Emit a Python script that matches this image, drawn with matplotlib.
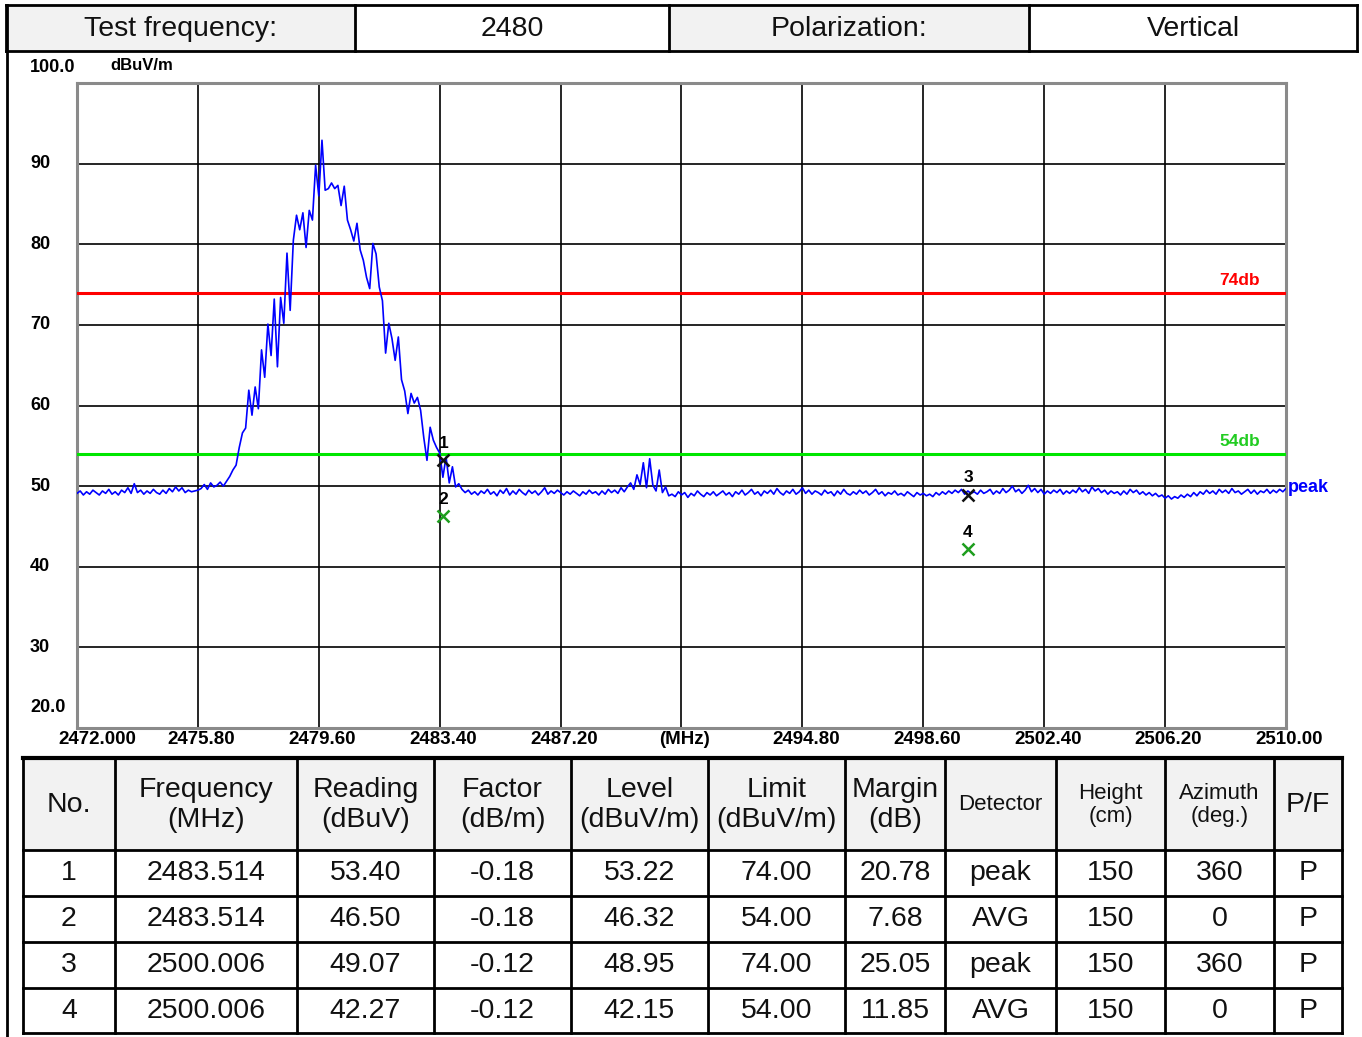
import numpy as np
import matplotlib
matplotlib.use('Agg')
import matplotlib.pyplot as plt
from matplotlib.transforms import blended_transform_factory
from matplotlib.patches import Rectangle

# ---------------- data ----------------
test_frequency = '2480'
polarization = 'Vertical'

sweep_start = 2472.0
sweep_step = 0.1
levels = [
    # 2472.0 - 2475.7
    49.1, 49.4, 48.9, 49.3, 49.0, 49.5, 49.2, 48.9, 49.4, 49.1,
    49.6, 49.0, 49.3, 48.9, 49.5, 49.2, 49.8, 49.1, 50.3, 49.2,
    49.5, 49.0, 49.4, 49.1, 49.6, 49.2, 49.0, 49.5, 49.1, 49.7,
    49.3, 49.9, 49.4, 49.8, 49.2, 49.5, 49.3, 49.4,
    # 2475.8 - 2483.9
    49.5, 49.7, 50.2, 49.6, 50.4, 49.9, 50.1, 50.5, 50.0, 50.6,
    51.2, 52.0, 52.6, 54.8, 56.6, 57.2, 61.9, 58.8, 62.3, 59.6,
    66.9, 63.5, 70.1, 66.2, 73.2, 64.8, 73.4, 70.2, 78.9, 71.8,
    80.5, 83.6, 81.8, 83.9, 79.6, 84.2, 83.0, 89.8, 86.0, 92.9,
    86.7, 86.9, 87.6, 86.9, 87.3, 84.8, 87.2, 83.0, 81.8, 80.4,
    82.6, 79.3, 78.0, 75.9, 74.5, 80.1, 78.8, 74.7, 73.0, 66.5,
    70.2, 68.3, 65.6, 68.5, 63.2, 61.8, 59.0, 61.5, 60.3, 61.0,
    59.4, 56.0, 53.2, 57.3, 55.7, 54.8, 54.1, 51.1, 53.6, 50.4,
    52.4, 49.9,
    # 2484.0 - 2489.2
    50.3, 49.6, 49.2, 49.5, 49.0, 49.3, 48.9, 49.4, 49.1, 49.6,
    49.0, 49.3, 48.8, 49.5, 49.1, 49.7, 48.9, 49.4, 49.0, 49.6,
    49.2, 48.9, 49.5, 49.1, 49.4, 48.9, 49.3, 49.8, 49.0, 49.4,
    49.1, 49.5, 49.2, 48.9, 49.3, 49.0, 49.4, 49.1, 48.8, 49.3,
    49.0, 49.5, 49.1, 49.3, 48.9, 49.4, 49.0, 49.6, 49.2, 49.5,
    49.1, 49.8, 49.3,
    # 2489.3 - 2490.6
    49.9, 50.4, 49.6, 51.4, 50.2, 52.9, 49.8, 53.4, 50.1, 49.4,
    52.0, 49.2, 49.9, 48.8,
    # 2490.7 - 2510.0
    49.0, 48.7, 49.3, 48.9, 49.2, 48.6, 49.1, 48.8, 49.4, 49.0,
    48.7, 49.2, 48.9, 49.3, 48.8, 49.1, 49.4, 48.9, 49.2, 48.7,
    49.3, 49.0, 49.5, 48.9, 49.2, 49.6, 49.0, 49.3, 48.8, 49.4,
    49.1, 49.5, 49.0, 49.7, 49.2, 48.9, 49.4, 49.1, 49.6, 49.0,
    49.3, 49.8, 49.1, 49.5, 49.0, 49.4, 49.2, 48.9, 49.5, 49.1,
    49.3, 48.8, 49.4, 49.0, 49.6, 49.1, 48.9, 49.3, 49.0, 49.5,
    49.1, 49.4, 48.9, 49.2, 49.6, 49.0, 49.3, 48.8, 49.2, 49.0,
    49.4, 48.9, 49.1, 48.8, 49.3, 49.0, 48.7, 49.2, 48.9, 49.1,
    48.8, 49.0, 48.7, 49.2, 48.9, 49.3, 49.0, 49.4, 49.1, 49.5,
    49.2, 49.6, 49.0, 49.4, 49.1, 49.3, 49.0, 49.5, 49.1, 49.3,
    49.6, 49.0, 49.4, 49.1, 49.7, 49.2, 49.5, 50.0, 49.3, 49.6,
    49.1, 49.5, 50.1, 49.3, 49.7, 49.2, 49.6, 49.0, 49.4, 49.1,
    49.5, 49.2, 49.6, 49.0, 49.4, 49.1, 49.5, 49.2, 49.8, 49.3,
    49.6, 49.1, 49.9, 49.4, 49.7, 49.2, 49.5, 49.0, 49.4, 49.1,
    49.3, 48.9, 49.4, 49.0, 49.6, 49.2, 49.5, 49.0, 49.3, 48.9,
    49.2, 48.8, 49.1, 48.7, 48.9, 48.5, 48.8, 48.4, 48.7, 48.5,
    48.9, 48.6, 49.0, 48.7, 49.2, 48.8, 49.3, 49.0, 49.5, 49.1,
    49.4, 49.0, 49.6, 49.2, 49.5, 49.1, 49.7, 49.2, 49.4, 49.0,
    49.3, 49.6, 49.1, 49.5, 49.0, 49.4, 49.2, 49.6, 49.1, 49.5,
    49.2, 49.6, 49.3, 49.7,
]

limit_peak = 74.0
limit_avg = 54.0
limit_peak_label = '74db'
limit_avg_label = '54db'
trace_label = 'peak'

x_ticks = [2472.0, 2475.8, 2479.6, 2483.4, 2487.2, 2491.0, 2494.8, 2498.6, 2502.4, 2506.2, 2510.0]
x_tick_labels = ['2472.000', '2475.80', '2479.60', '2483.40', '2487.20', '(MHz)',
                 '2494.80', '2498.60', '2502.40', '2506.20', '2510.00']
y_ticks = [20, 30, 40, 50, 60, 70, 80, 90, 100]
y_tick_labels = ['20.0', '30', '40', '50', '60', '70', '80', '90', '100.0']
y_unit = 'dBuV/m'

# measurement table
col_headers = ['No.', 'Frequency\n(MHz)', 'Reading\n(dBuV)', 'Factor\n(dB/m)', 'Level\n(dBuV/m)',
               'Limit\n(dBuV/m)', 'Margin\n(dB)', 'Detector', 'Height\n(cm)', 'Azimuth\n(deg.)', 'P/F']
meas_no = ['1', '2', '3', '4']
meas_freq = ['2483.514', '2483.514', '2500.006', '2500.006']
meas_reading = [53.40, 46.50, 49.07, 42.27]
meas_factor = [-0.18, -0.18, -0.12, -0.12]
meas_level = [53.22, 46.32, 48.95, 42.15]
meas_limit = [74.00, 54.00, 74.00, 54.00]
meas_margin = [20.78, 7.68, 25.05, 11.85]
meas_detector = ['peak', 'AVG', 'peak', 'AVG']
meas_height = [150, 150, 150, 150]
meas_azimuth = [360, 0, 360, 0]
meas_pf = ['P', 'P', 'P', 'P']

# ---------------- figure ----------------
W, H = 1362, 1037
fig = plt.figure(figsize=(W / 100, H / 100), dpi=100)
fig.patch.set_facecolor('white')

pg = fig.add_axes([0, 0, 1, 1])
pg.set_xlim(0, W)
pg.set_ylim(H, 0)
pg.axis('off')
pg.set_zorder(1)

TF = 'Liberation Sans'
BF = 'Liberation Sans'

# ---- header strip ----
hx = [6, 355, 669, 1029, 1357]
hy0, hy1 = 5, 51
header_texts = ['Test frequency:', test_frequency, 'Polarization:', polarization]
for i, t in enumerate(header_texts):
    fc = '#f2f2f2' if i % 2 == 0 else 'white'
    pg.add_patch(Rectangle((hx[i], hy0), hx[i + 1] - hx[i], hy1 - hy0, facecolor=fc,
                           edgecolor='none', zorder=1))
    pg.text((hx[i] + hx[i + 1]) / 2, (hy0 + hy1) / 2 + 1, t, ha='center', va='center',
            fontsize=20.5, family=TF, color='#111111', zorder=3)
for x in hx:
    pg.plot([x, x], [hy0, hy1], color='black', lw=2, zorder=2, solid_capstyle='projecting')
pg.plot([hx[0], hx[-1]], [hy0, hy0], color='black', lw=2, zorder=2)
pg.plot([hx[0], hx[-1]], [hy1, hy1], color='black', lw=2, zorder=2)
# page left border
pg.plot([7, 7], [hy0, H], color='black', lw=2, zorder=2)

# ---- chart ----
L, T, R, B = 77, 83, 1286, 728
ax = fig.add_axes([L / W, 1 - B / H, (R - L) / W, (B - T) / H])
ax.set_zorder(2)
freq = sweep_start + sweep_step * np.arange(len(levels))
ax.set_xlim(x_ticks[0], x_ticks[-1])
ax.set_ylim(y_ticks[0], y_ticks[-1])
ax.set_xticks(x_ticks)
ax.set_yticks(y_ticks)
ax.set_xticklabels([])
ax.set_yticklabels([])
ax.tick_params(length=0)
ax.grid(True, color='black', lw=1.2, zorder=1)
for sp in ax.spines.values():
    sp.set_color('#8a8a8a')
    sp.set_linewidth(2.2)

ax.plot(freq, levels, color='#0000ff', lw=1.2, zorder=4)
ax.axhline(limit_peak, color='#ff0000', lw=2.2, zorder=3)
ax.axhline(limit_avg, color='#00e600', lw=2.2, zorder=3)

hb = blended_transform_factory(ax.transAxes, ax.transData)
ax.annotate(limit_peak_label, xy=(0.962, limit_peak), xycoords=hb, xytext=(0, 3.5),
            textcoords='offset points', ha='center', va='bottom', color='#ff0000',
            fontsize=12.5, fontweight='bold', family=BF)
ax.annotate(limit_avg_label, xy=(0.962, limit_avg), xycoords=hb, xytext=(0, 3.5),
            textcoords='offset points', ha='center', va='bottom', color='#22cc22',
            fontsize=12.5, fontweight='bold', family=BF)
ax.annotate(trace_label, xy=(1, levels[-1]), xycoords=hb, xytext=(1.5, 1),
            textcoords='offset points', ha='left', va='center', color='#0000ff',
            fontsize=13, fontweight='bold', family=BF, annotation_clip=False)

# markers
for no, f, lv, det in zip(meas_no, meas_freq, meas_level, meas_detector):
    c = '#111111' if det == 'peak' else '#1e9e1e'
    ax.plot(float(f), lv, marker='x', color=c, ms=8.5, mew=1.8, zorder=6, clip_on=False)
    ax.annotate(no, xy=(float(f), lv), xytext=(0, 12), textcoords='offset points',
                ha='center', va='center', fontsize=12.5, fontweight='bold', family=BF,
                color='black', zorder=7)

# y tick labels (pixel x, data y)
yt = blended_transform_factory(pg.transData, ax.transData)
for v, lab in zip(y_ticks, y_tick_labels):
    dy = 0
    if v == y_ticks[-1]:
        dy = 11
    elif v == y_ticks[0]:
        dy = 15
    ax.annotate(lab, xy=(30, v), xycoords=yt, xytext=(0, dy), textcoords='offset points',
                ha='left', va='center', fontsize=13, fontweight='bold', family=BF,
                annotation_clip=False)
pg.text(110, 66, y_unit, ha='left', va='center', fontsize=12, fontweight='bold', family=BF,
        zorder=3)

# x tick labels (data x, pixel y)
xt = blended_transform_factory(ax.transData, pg.transData)
for j, (v, lab) in enumerate(zip(x_ticks, x_tick_labels)):
    if j == 0:
        ax.annotate(lab, xy=(v, 740), xycoords=xt, xytext=(-13.7, 0),
                    textcoords='offset points', ha='left', va='center', fontsize=13.5,
                    fontweight='bold', family=BF, annotation_clip=False)
    else:
        ax.annotate(lab, xy=(v, 740), xycoords=xt, xytext=(2.5, 0), textcoords='offset points',
                    ha='center', va='center', fontsize=13.5, fontweight='bold', family=BF,
                    annotation_clip=False)

# ---- measurement table ----
cx = [23, 115, 297, 434, 571, 708, 845, 945, 1056, 1165, 1274, 1342]
ry = [758, 850, 896, 942, 988, 1033]
pg.add_patch(Rectangle((cx[0], ry[0]), cx[-1] - cx[0], ry[1] - ry[0], facecolor='#f2f2f2',
                       edgecolor='none', zorder=1))
small_cols = {'Detector', 'Height\n(cm)', 'Azimuth\n(deg.)'}
for i, h in enumerate(col_headers):
    big = h not in small_cols
    fs = 20.5 if big else 16
    pg.text((cx[i] + cx[i + 1]) / 2, (ry[0] + ry[1]) / 2 + 1, h, ha='center', va='center',
            fontsize=fs, family=TF, color='#111111', linespacing=1.22 if big else 1.15,
            zorder=3)

rows = []
for k in range(len(meas_no)):
    rows.append([meas_no[k], meas_freq[k], f'{meas_reading[k]:.2f}', f'{meas_factor[k]:.2f}',
                 f'{meas_level[k]:.2f}', f'{meas_limit[k]:.2f}', f'{meas_margin[k]:.2f}',
                 meas_detector[k], str(meas_height[k]), str(meas_azimuth[k]), meas_pf[k]])
for r, row in enumerate(rows):
    yc = (ry[r + 1] + ry[r + 2]) / 2
    for i, t in enumerate(row):
        pg.text((cx[i] + cx[i + 1]) / 2, yc, t, ha='center', va='center', fontsize=20.5,
                family=TF, color='#111111', zorder=3)

for x in cx:
    pg.plot([x, x], [ry[0], ry[-1]], color='black', lw=2, zorder=2)
for j, y in enumerate(ry):
    pg.plot([cx[0], cx[-1]], [y, y], color='black', lw=3 if j == 0 else 2, zorder=2)

fig.savefig('out.png', dpi=100, facecolor='white')
